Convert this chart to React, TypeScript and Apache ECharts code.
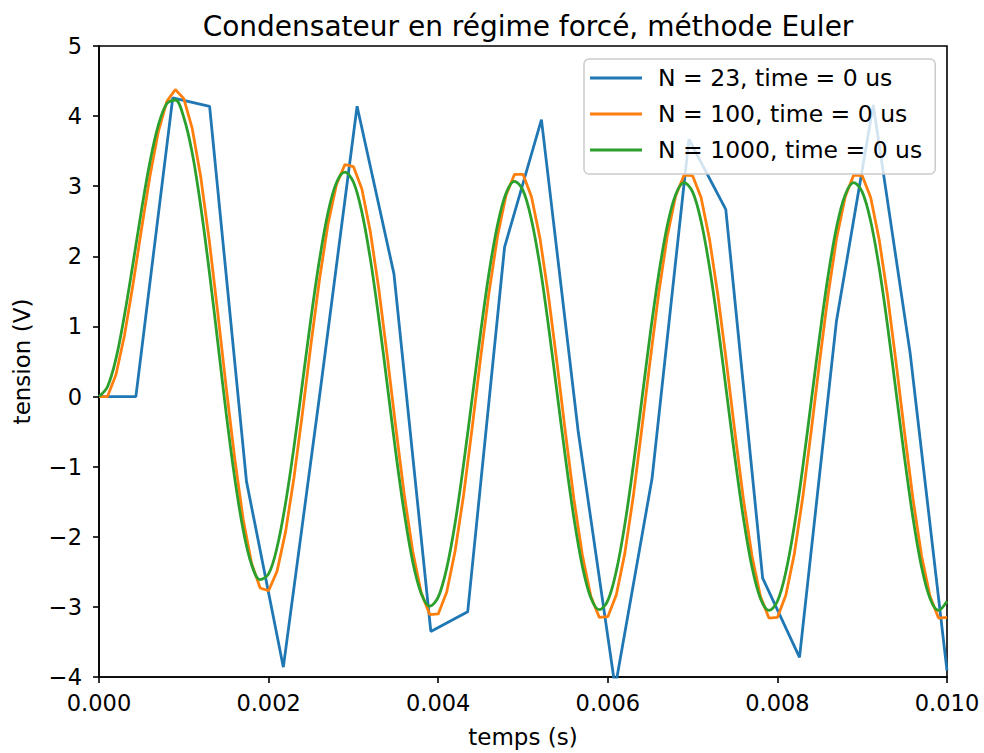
import React, { useEffect, useRef } from "react";
import * as echarts from "echarts";

// ---- data ----
const T_END = 0.01; // s
const N_STEPS = [23, 100, 1000];
const SERIES_NAMES = [
  "N = 23, time = 0 us",
  "N = 100, time = 0 us",
  "N = 1000, time = 0 us",
];
const COLORS = ["#1f77b4", "#ff7f0e", "#2ca02c"];

// N = 23 : one value per step (24 points from 0 to 0.01 s)
const vN23 = [
  0, 0, 4.26, 4.14, -1.21, -3.86, 0.08, 4.14, 1.75, -3.35, -3.07, 2.13, 3.95,
  -0.51, -4.15, -1.17, 3.67, 2.67, -2.59, -3.72, 1.07, 4.16, 0.62, -3.91,
];

// N = 100 : one value per step (101 points)
const vN100 = [
  0.0, 0.0, 0.31, 0.87, 1.59, 2.38, 3.14, 3.78, 4.21, 4.38,
  4.25, 3.82, 3.13, 2.23, 1.2, 0.13, -0.88, -1.75, -2.38, -2.73,
  -2.77, -2.49, -1.93, -1.15, -0.23, 0.75, 1.67, 2.46, 3.02, 3.31,
  3.28, 2.96, 2.35, 1.53, 0.57, -0.44, -1.4, -2.21, -2.8, -3.11,
  -3.1, -2.79, -2.2, -1.4, -0.45, 0.55, 1.49, 2.29, 2.87, 3.17,
  3.17, 2.85, 2.26, 1.44, 0.49, -0.51, -1.46, -2.26, -2.85, -3.15,
  -3.14, -2.83, -2.24, -1.43, -0.47, 0.52, 1.47, 2.28, 2.86, 3.16,
  3.15, 2.84, 2.24, 1.43, 0.48, -0.52, -1.47, -2.27, -2.85, -3.16,
  -3.15, -2.83, -2.24, -1.43, -0.48, 0.52, 1.47, 2.27, 2.85, 3.16,
  3.15, 2.84, 2.24, 1.43, 0.48, -0.52, -1.47, -2.27, -2.85, -3.16,
  -3.15,
];

// N = 1000 : read every 10th step (101 points, drawn smoothed)
const N1000_READ_EVERY = 10;
const vN1000 = [
  0.0, 0.14, 0.54, 1.16, 1.89, 2.65, 3.34, 3.87, 4.18, 4.23,
  3.98, 3.47, 2.71, 1.79, 0.78, -0.24, -1.16, -1.9, -2.4, -2.61,
  -2.53, -2.15, -1.52, -0.71, 0.2, 1.12, 1.95, 2.62, 3.05, 3.2,
  3.06, 2.63, 1.96, 1.11, 0.16, -0.8, -1.66, -2.36, -2.81, -2.99,
  -2.86, -2.45, -1.8, -0.96, -0.03, 0.91, 1.77, 2.45, 2.9, 3.07,
  2.94, 2.52, 1.86, 1.01, 0.07, -0.87, -1.73, -2.42, -2.87, -3.04,
  -2.91, -2.49, -1.83, -0.99, -0.06, 0.89, 1.74, 2.43, 2.88, 3.05,
  2.92, 2.5, 1.84, 1.0, 0.06, -0.88, -1.74, -2.43, -2.88, -3.05,
  -2.92, -2.5, -1.84, -1.0, -0.06, 0.88, 1.74, 2.43, 2.88, 3.05,
  2.92, 2.5, 1.84, 1.0, 0.06, -0.88, -1.74, -2.43, -2.88, -3.05,
  -2.92,
];

const TITLE = "Condensateur en régime forcé, méthode Euler";
const X_NAME = "temps (s)";
const Y_NAME = "tension (V)";
const X_MIN = 0;
const X_MAX = 0.01;
const X_STEP = 0.002;
const Y_MIN = -4;
const Y_MAX = 5;
const Y_STEP = 1;

const FONT = "DejaVu Sans";

function pairs(values: number[], nSteps: number, every = 1) {
  const dt = T_END / nSteps;
  return values.map((v, i) => [i * every * dt, v]);
}

const minus = (v: number, digits: number) => {
  const s = Math.abs(v).toFixed(digits);
  return v < 0 && Math.abs(v) > 1e-12 ? "\u2212" + s : s;
};

export default function App() {
  const ref = useRef<HTMLDivElement>(null);

  useEffect(() => {
    if (!ref.current) return;
    const chart = echarts.init(ref.current, null, { renderer: "svg" });
    const datasets = [
      pairs(vN23, N_STEPS[0]),
      pairs(vN100, N_STEPS[1]),
      pairs(vN1000, N_STEPS[2], N1000_READ_EVERY),
    ];
    chart.setOption({
      animation: false,
      backgroundColor: "#ffffff",
      textStyle: { fontFamily: FONT },
      title: {
        text: TITLE,
        left: 523,
        textAlign: "center",
        top: 7,
        textStyle: {
          fontFamily: FONT,
          fontSize: 28,
          fontWeight: "normal",
          color: "#000",
        },
      },
      grid: {
        left: 99,
        top: 46,
        right: 37,
        bottom: 73,
        show: true,
        borderColor: "#000",
        borderWidth: 1.6,
        backgroundColor: "transparent",
        containLabel: false,
      },
      legend: {
        orient: "vertical",
        left: 584,
        top: 59,
        padding: [7, 13, 12, 6],
        itemGap: 12,
        itemWidth: 52,
        itemHeight: 3,
        icon: "rect",
        backgroundColor: "rgba(255,255,255,0.8)",
        borderColor: "#cccccc",
        borderWidth: 1.5,
        borderRadius: 5,
        textStyle: {
          fontFamily: FONT,
          fontSize: 23.5,
          color: "#000",
          padding: [0, 0, 0, 11],
        },
        data: SERIES_NAMES,
      },
      xAxis: {
        type: "value",
        min: X_MIN,
        max: X_MAX,
        interval: X_STEP,
        name: X_NAME,
        nameLocation: "middle",
        nameGap: 48,
        nameTextStyle: { fontFamily: FONT, fontSize: 23, color: "#000" },
        axisLine: {
          show: true,
          onZero: false,
          lineStyle: { color: "#000", width: 1.6 },
        },
        axisTick: {
          show: true,
          inside: false,
          length: 6,
          lineStyle: { color: "#000", width: 1.6 },
        },
        axisLabel: {
          fontFamily: FONT,
          fontSize: 22.5,
          color: "#000",
          margin: 14,
          formatter: (v: number) => minus(v, 3),
        },
        splitLine: { show: false },
      },
      yAxis: {
        type: "value",
        min: Y_MIN,
        max: Y_MAX,
        interval: Y_STEP,
        name: Y_NAME,
        nameLocation: "middle",
        nameRotate: 90,
        nameGap: 66,
        nameTextStyle: { fontFamily: FONT, fontSize: 23, color: "#000" },
        axisLine: {
          show: true,
          onZero: false,
          lineStyle: { color: "#000", width: 1.6 },
        },
        axisTick: {
          show: true,
          inside: false,
          length: 6,
          lineStyle: { color: "#000", width: 1.6 },
        },
        axisLabel: {
          fontFamily: FONT,
          fontSize: 22.5,
          color: "#000",
          margin: 17,
          formatter: (v: number) => minus(v, 0),
        },
        splitLine: { show: false },
      },
      series: datasets.map((data, i) => ({
        name: SERIES_NAMES[i],
        type: "line",
        data,
        showSymbol: false,
        symbol: "none",
        smooth: i === 2 ? 0.35 : false,
        clip: true,
        z: 2 + i,
        lineStyle: { color: COLORS[i], width: 2.8 },
        itemStyle: { color: COLORS[i] },
      })),
    });
    return () => chart.dispose();
  }, []);

  return (
    <div
      ref={ref}
      style={{ position: "fixed", left: 0, top: 0, width: 984, height: 753 }}
    />
  );
}
